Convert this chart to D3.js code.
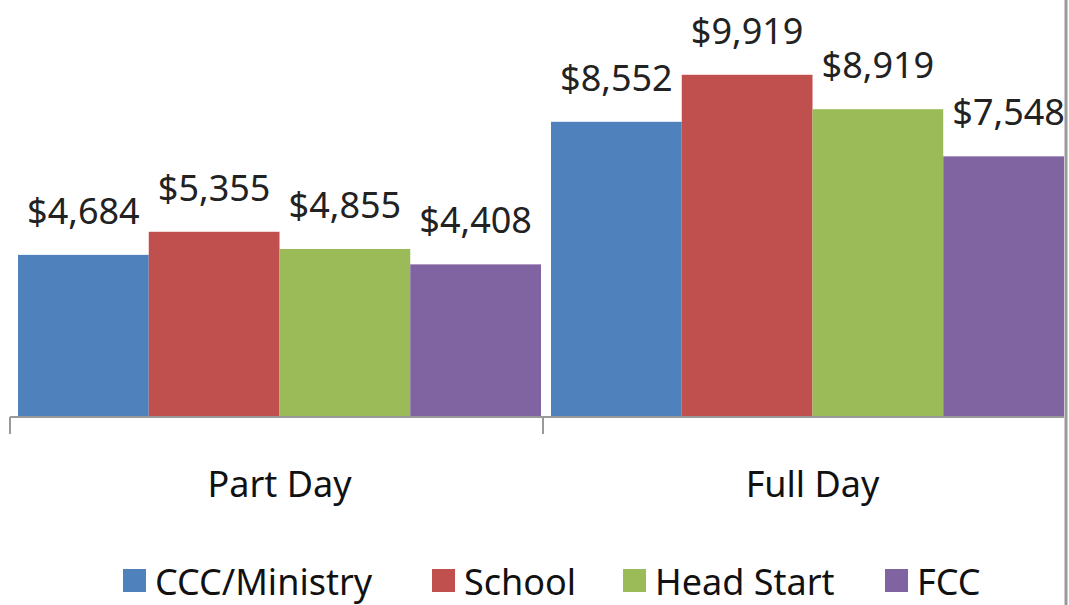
<!DOCTYPE html>
<html>
<head>
<meta charset="utf-8">
<script src="https://cdn.jsdelivr.net/npm/d3@7"></script>
<style>
  body { margin: 0; background: #fff; }
  svg { display: block; font-family: "Noto Sans", "Open Sans", sans-serif; }
</style>
</head>
<body>
<div id="chart"></div>
<script>
// data
const categories = ['Part Day', 'Full Day']
const seriesNames = ['CCC/Ministry', 'School', 'Head Start', 'FCC']
const seriesColors = ['#4F81BD', '#C0504D', '#9BBB59', '#8064A2']
const partDay = [4684, 5355, 4855, 4408]
const fullDay = [8552, 9919, 8919, 7548]

const values = [partDay, fullDay]

const width = 1069, height = 605
const baseY = 416
const plotRight = 1064

const svg = d3.select('#chart').append('svg')
    .attr('width', width)
    .attr('height', height)

svg.append('rect')
    .attr('width', width)
    .attr('height', height)
    .style('fill', '#fff')

svg.append('defs').append('clipPath')
    .attr('id', 'plot-clip')
    .append('rect')
    .attr('x', 0).attr('y', 0)
    .attr('width', plotRight).attr('height', height)

const x0 = d3.scaleBand()
    .domain(categories)
    .range([10, 1076])

const x1 = d3.scaleBand()
    .domain(seriesNames)
    .range([8, 531])

const y = d3.scaleLinear()
    .domain([0, 10000])
    .range([baseY, 72])

const fmt = d => '$' + d3.format(',')(d)

const plot = svg.append('g').attr('clip-path', 'url(#plot-clip)')

const groups = plot.selectAll('g.cat')
    .data(categories)
    .enter()
        .append('g')
        .attr('class', 'cat')
        .attr('transform', d => `translate(${x0(d)},0)`)

groups.selectAll('rect')
    .data((d, i) => values[i].map((v, j) => ({ name: seriesNames[j], value: v, color: seriesColors[j] })))
    .enter()
        .append('rect')
        .attr('x', d => x1(d.name))
        .attr('y', d => y(d.value))
        .attr('width', x1.bandwidth())
        .attr('height', d => baseY - y(d.value))
        .style('fill', d => d.color)

groups.selectAll('text.val')
    .data((d, i) => values[i].map((v, j) => ({ name: seriesNames[j], value: v })))
    .enter()
        .append('text')
        .attr('class', 'val')
        .attr('x', d => x1(d.name) + x1.bandwidth() / 2)
        .attr('y', d => y(d.value) - 31)
        .attr('text-anchor', 'middle')
        .style('font-size', '36px')
        .style('fill', '#222')
        .text(d => fmt(d.value))

// category axis
const axis = svg.append('g').attr('id', 'x-axis')

axis.append('line')
    .attr('x1', 10).attr('x2', plotRight)
    .attr('y1', 417).attr('y2', 417)
    .style('stroke', '#999')
    .style('stroke-width', 2)

axis.selectAll('line.tick')
    .data(categories)
    .enter()
        .append('line')
        .attr('class', 'tick')
        .attr('x1', d => x0(d)).attr('x2', d => x0(d))
        .attr('y1', 417).attr('y2', 434)
        .style('stroke', '#999')
        .style('stroke-width', 2)

axis.selectAll('text')
    .data(categories)
    .enter()
        .append('text')
        .attr('x', d => x0(d) + x0.bandwidth() / 2 + 3)
        .attr('y', 497)
        .attr('text-anchor', 'middle')
        .style('font-size', '36px')
        .style('fill', '#111')
        .text(d => d)

// right border
svg.append('line')
    .attr('x1', 1066).attr('x2', 1066)
    .attr('y1', 0).attr('y2', height)
    .style('stroke', '#999')
    .style('stroke-width', 3)

// legend
const legendX = [123, 432, 623, 885]
const legend = svg.append('g').attr('id', 'legend')
const item = legend.selectAll('g')
    .data(seriesNames)
    .enter()
        .append('g')
        .attr('transform', (d, i) => `translate(${legendX[i]}, 569)`)

item.append('rect')
    .attr('width', 23).attr('height', 23)
    .style('fill', (d, i) => seriesColors[i])

item.append('text')
    .attr('x', 32)
    .attr('y', 26)
    .style('font-size', '36px')
    .style('fill', '#111')
    .text(d => d)
</script>
</body>
</html>
